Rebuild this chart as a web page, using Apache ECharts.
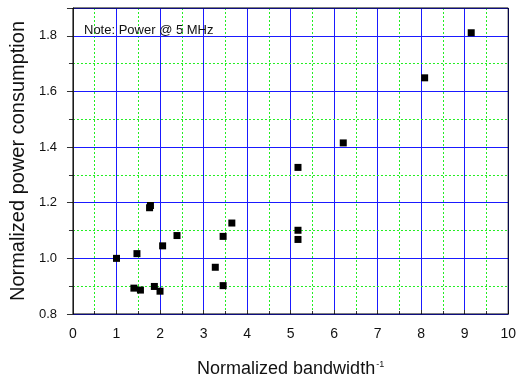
<!DOCTYPE html>
<html>
<head>
<meta charset="utf-8">
<script src="https://cdn.jsdelivr.net/npm/echarts@6/dist/echarts.min.js"></script>
<style>
  html, body { margin: 0; padding: 0; background: #fff; }
  #main { width: 519px; height: 383px; }
</style>
</head>
<body>
<div id="main"></div>
<script>
// values
var bandwidthInv = [1.00, 1.47, 1.40, 1.55, 1.87, 2.00, 2.06, 2.39, 3.45, 3.27, 3.45, 5.17, 5.17, 1.76, 1.78, 3.65, 5.17, 6.21, 8.08, 9.15];
var powerNorm    = [1.000, 1.017, 0.893, 0.886, 0.899, 0.882, 1.045, 1.082, 1.079, 0.968, 0.902, 1.068, 1.101, 1.182, 1.190, 1.127, 1.327, 1.415, 1.649, 1.811];
var xRange = [0, 10];
var yRange = [0.8, 1.9];
var noteText = 'Note: Power @ 5 MHz';

var FONT = '"Liberation Sans", Arial, sans-serif';

var points = [];
for (var i = 0; i < bandwidthInv.length; i++) {
  points.push([bandwidthInv[i], powerNorm[i]]);
}

var myChart = echarts.init(document.getElementById('main'));
var option = {
  backgroundColor: '#fff',
  animation: false,
  textStyle: { fontFamily: FONT },
  grid: {
    left: 69, right: 9, top: 8, bottom: 67,
    show: true, borderColor: '#000', borderWidth: 1, backgroundColor: 'transparent', z: 5
  },
  graphic: [{
    type: 'text',
    x: 84, y: 30.5,
    z: 100,
    style: { text: noteText, font: '13px ' + FONT, fill: '#111', verticalAlign: 'middle' }
  }],
  xAxis: {
    type: 'value',
    min: xRange[0], max: xRange[1], interval: 1,
    name: '{a|Normalized bandwidth}{s|-1}',
    nameLocation: 'middle',
    nameGap: 46,
    nameTextStyle: {
      rich: {
        a: { fontSize: 18, color: '#111', fontFamily: FONT },
        s: { fontSize: 9, color: '#111', fontFamily: FONT, verticalAlign: 'top', padding: [0, 0, 0, 1] }
      }
    },
    axisLine: { lineStyle: { color: '#333', width: 1 } },
    axisTick: { inside: true, length: 4, lineStyle: { color: '#333' } },
    minorTick: { show: true, splitNumber: 2, length: 3, lineStyle: { color: '#333' } },
    axisLabel: { fontSize: 14, color: '#111', margin: 13, fontFamily: FONT },
    splitLine: { show: true, lineStyle: { color: '#1a1aff', width: 1, type: 'solid' } },
    minorSplitLine: { show: true, lineStyle: { color: '#22ee22', width: 1, type: [2, 2] } }
  },
  yAxis: [{
    type: 'value',
    min: yRange[0], max: yRange[1], interval: 0.2,
    z: 3,
    name: 'Normalized power consumption',
    nameLocation: 'middle',
    nameGap: 41,
    nameTextStyle: { fontSize: 20, color: '#111', fontFamily: FONT },
    axisLine: { show: true, lineStyle: { color: '#333', width: 1 } },
    axisTick: { show: true, length: 6, lineStyle: { color: '#333' } },
    axisLabel: {
      fontSize: 13, color: '#111', margin: 16, fontFamily: FONT,
      formatter: function (v) { return v > 1.85 ? '' : v.toFixed(1); }
    },
    splitLine: { show: true, lineStyle: { color: '#1a1aff', width: 1, type: 'solid' } }
  }, {
    type: 'value',
    position: 'left',
    min: yRange[0], max: yRange[1], interval: 0.1,
    z: 1,
    axisLine: { show: false },
    axisTick: { show: true, length: 4, lineStyle: { color: '#333' } },
    axisLabel: { show: false },
    splitLine: { show: true, lineStyle: { color: '#22ee22', width: 1, type: [2, 2] } }
  }],
  series: [{
    type: 'scatter',
    yAxisIndex: 0,
    symbol: 'rect',
    symbolSize: 7,
    itemStyle: { color: '#000', opacity: 1 },
    z: 10,
    data: points
  }]
};
myChart.setOption(option);
</script>
</body>
</html>
